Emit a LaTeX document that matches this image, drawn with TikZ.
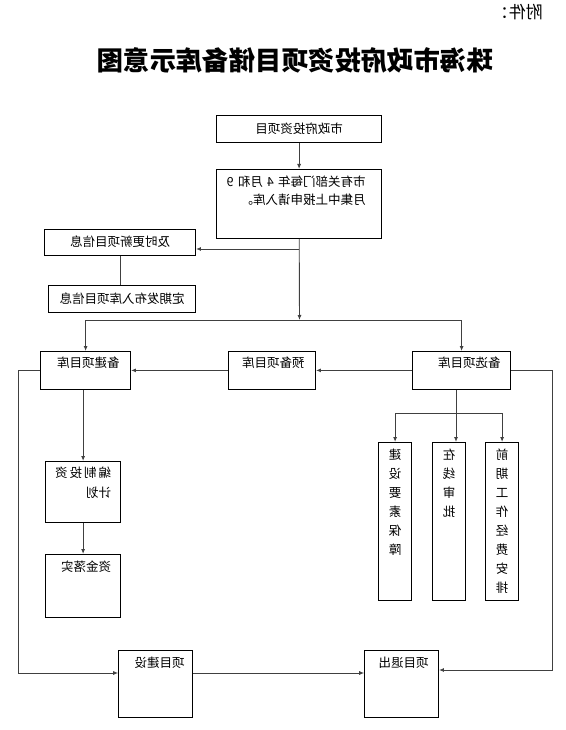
\documentclass[tikz,border=0pt]{standalone}
\usepackage{fontspec}
\setmainfont{Noto Sans CJK SC}
\usetikzlibrary{arrows.meta}

\begin{document}
\begin{tikzpicture}[x=1pt,y=-1pt,xscale=-1,
  every node/.append style={transform shape},
  >={Latex[length=5pt,width=4pt]},
  link/.style={line width=0.9pt,draw=black!75},
  box/.style={draw,line width=0.8pt,inner ysep=0pt,anchor=north west,font=\fontsize{12.5}{17.5}\selectfont},
  pool/.style={box,text height=15.7pt,text depth=22.3pt,align=left},
  tall/.style={box,text width=13pt,inner xsep=10pt,text height=16.7pt,text depth=141.3pt,align=center,font=\fontsize{12.5}{19}\selectfont}]
 \useasboundingbox (0,0) rectangle (565,730);

 \node[name=Annex,anchor=west,inner sep=0pt,font=\fontsize{17}{19}\selectfont] at (22,12.5) {附件：};
 \node[name=Title,font=\fontsize{26.4}{30}\selectfont\bfseries]             at (270,60.5) {珠海市政府投资项目储备库示意图};

 \node[box,name=GovP, text width=155pt,inner xsep=5pt, text height=18pt,  text depth=9pt,   align=center] at (183,115) {市政府投资项目};
 \node[box,name=Apply,text width=133pt,inner xsep=16pt,text height=17.5pt,text depth=51.5pt,align=left]   at (183,169) {\makebox[133pt][l]{市有关部门每年 4 月和 9}\\月集中上报申请入库。};
 \node[box,name=Upd,  text width=141pt,inner xsep=5pt, text height=17.5pt,text depth=8.5pt, align=center] at (369,229) {及时更新项目信息};
 \node[box,name=Pub,  text width=137pt,inner xsep=5pt, text height=18pt,  text depth=9pt,   align=center] at (369,285) {定期发布入库项目信息};

 \node[pool,name=Cand, text width=78pt,inner xsep=10pt] at (54,351)  {备选项目库};
 \node[pool,name=Resv, text width=65pt,inner xsep=11pt] at (249,351) {预备项目库};
 \node[pool,name=Build,text width=68pt,inner xsep=11pt] at (434,351) {备建项目库};

 \node[box,name=Plan,text width=56pt,inner xsep=9.5pt,text height=16.4pt,text depth=44.6pt,align=left,font=\fontsize{12.5}{19.7}\selectfont] at (444,461) {编\hfill 制\hfill 投\hfill 资\\计划};
 \node[box,name=Fund,text width=56pt,inner xsep=9.5pt,text height=16.7pt,text depth=46.3pt,align=left] at (444,554) {资金落实};

 \node[tall,name=Prep]   at (46,442)  {前\\期\\工\\作\\经\\费\\安\\排};
 \node[tall,name=Online] at (99,442)  {在\\线\\审\\批};
 \node[tall,name=Elem]   at (153,442) {建\\设\\要\\素\\保\\障};

 \node[box,name=Cons,text width=58pt,inner xsep=8pt, text height=16.7pt,text depth=50.3pt,align=left] at (372,650) {项目建设};
 \node[box,name=Exit,text width=54pt,inner xsep=10pt,text height=16.7pt,text depth=50.3pt,align=left] at (126,650) {项目退出};

 % junction points
 \coordinate (tap)   at (265.5,249);
 \coordinate (split) at (265.5,320);
 \coordinate (fork)  at (109,413);
 \coordinate (loopL) at (547,673);
 \coordinate (loopR) at (13,670);

 \draw[link,->] (GovP)  -- (Apply);
 \draw[link,->] (Apply) -- (split);
 \draw[link,->] (tap)   -- (tap -| Upd.west);
 \draw[link]    (Upd)   -- (Upd.south |- Pub.north);
 \draw[link,->] (split) -| (Build);
 \draw[link,->] (split) -| (Cand);
 \draw[link,->] (Cand)  -- (Resv);
 \draw[link,->] (Resv)  -- (Build);
 \draw[link,->] (Build.south -| Plan.north) -- (Plan.north);
 \draw[link,->] (Plan)  -- (Fund);
 \draw[link]    (Cand.south -| fork) -- (fork);
 \draw[link,->] (fork)  -| (Elem);
 \draw[link,->] (fork)  -- (fork |- Online.north);
 \draw[link,->] (fork)  -| (Prep);
 \draw[link,->] (Build.east) -| (loopL) -- (Cons.east |- loopL);
 \draw[link,->] (Cons.west |- loopL) -- (Exit.east |- loopL);
 \draw[link,->] (Cand.west)  -| (loopR) -- (Exit.west |- loopR);
\end{tikzpicture}
\end{document}
